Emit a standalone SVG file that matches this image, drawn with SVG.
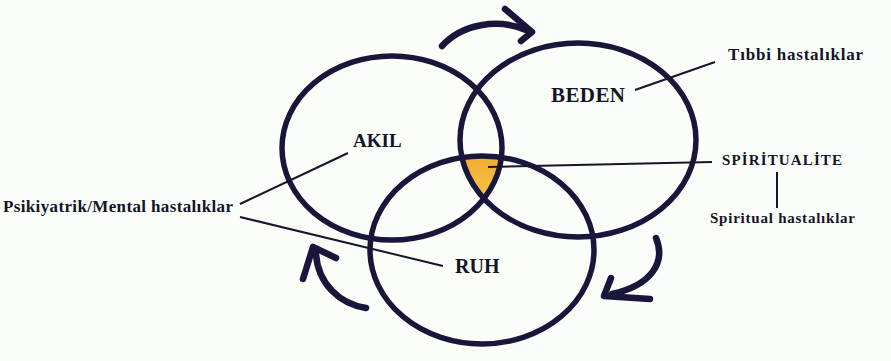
<svg xmlns="http://www.w3.org/2000/svg" width="891" height="361" viewBox="0 0 891 361">
<defs>
<style>
.ring{fill:none;stroke:#18163a;stroke-width:5.5}
.ln{stroke:#151530;stroke-width:2;fill:none}
.arr{fill:none;stroke:#18163a;stroke-width:6.5;stroke-linecap:round;stroke-linejoin:round}
.lbl{font-family:"Liberation Serif",serif;font-weight:bold;fill:#141428}
</style>
<radialGradient id="gold" cx="0.5" cy="0.4" r="0.6">
<stop offset="0" stop-color="#fbd35a"/>
<stop offset="1" stop-color="#eb9a1e"/>
</radialGradient>
<clipPath id="cA"><ellipse cx="392" cy="148" rx="110" ry="92"/></clipPath>
<clipPath id="cB"><ellipse cx="578" cy="140" rx="118" ry="97"/></clipPath>
</defs>
<rect width="891" height="361" fill="#fbfdf8"/>
<g id="spiritualite-area" clip-path="url(#cA)">
<g clip-path="url(#cB)">
<ellipse cx="482" cy="250" rx="112" ry="94" fill="url(#gold)"/>
</g>
</g>
<g id="akil"><ellipse class="ring" cx="392" cy="148" rx="110" ry="92"/><text class="lbl" x="353" y="147" font-size="19">AKIL</text></g>
<g id="beden"><ellipse class="ring" cx="578" cy="140" rx="118" ry="97"/><text class="lbl" x="551" y="102" font-size="21" textLength="74">BEDEN</text></g>
<g id="ruh"><ellipse class="ring" cx="482" cy="250" rx="112" ry="94"/><text class="lbl" x="455" y="273" font-size="20">RUH</text></g>
<g id="connectors">
<line class="ln" x1="348" y1="153" x2="240" y2="204"/>
<line class="ln" x1="240" y1="217" x2="443" y2="266"/>
<line class="ln" x1="635" y1="90" x2="715" y2="62"/>
<line class="ln" x1="488" y1="167" x2="712" y2="162"/>
<line class="ln" x1="777" y1="172" x2="777" y2="208"/>
<path class="arr" d="M442,46 C462,24 498,18 526,30"/>
<path class="arr" d="M505,9 L532,32 L521,41"/>
<path class="arr" d="M656,238 C666,262 652,285 612,294"/>
<path class="arr" d="M611,278 L604,296 L650,299"/>
<path class="arr" d="M366,308 C340,304 318,284 316,254"/>
<path class="arr" d="M336,258 L313,247 L303,279"/>
</g>
<g id="labels">
<text class="lbl" x="728" y="60" font-size="17" textLength="135">Tıbbi hastalıklar</text>
<text class="lbl" x="722" y="165" font-size="15" textLength="120">SPİRİTUALİTE</text>
<text class="lbl" x="710" y="223" font-size="15" textLength="145">Spiritual hastalıklar</text>
<text class="lbl" x="3" y="212" font-size="17" textLength="230">Psikiyatrik/Mental hastalıklar</text>
</g>
</svg>
